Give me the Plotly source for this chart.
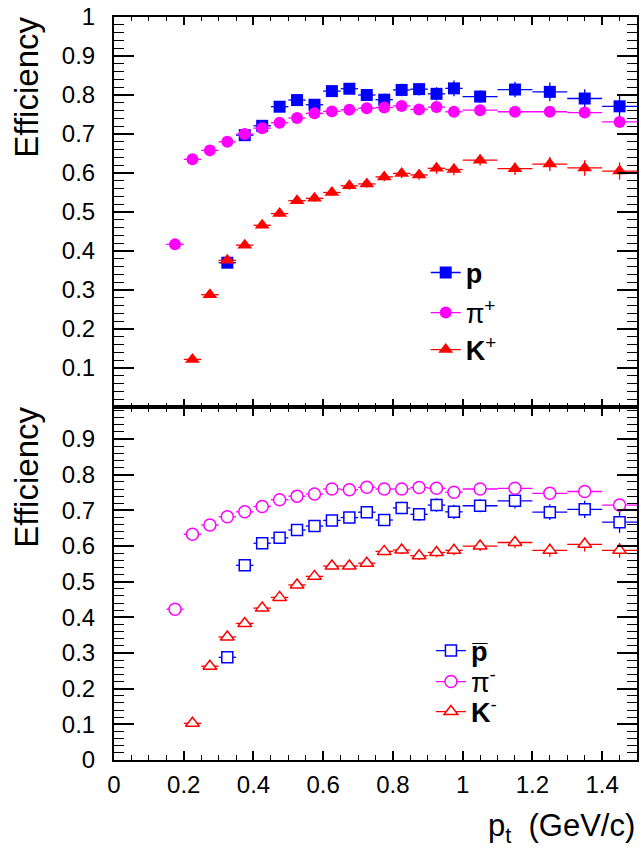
import plotly.graph_objects as go

# ---- data ----
pt = [0.175, 0.225, 0.275, 0.325, 0.375, 0.425, 0.475, 0.525, 0.575, 0.625, 0.675,
      0.725, 0.775, 0.825, 0.875, 0.925, 0.975, 1.05, 1.15, 1.25, 1.35, 1.45]
pt_half = [0.025] * 17 + [0.05] * 5

pip_eff = [0.417, 0.635, 0.658, 0.680, 0.700, 0.715, 0.729, 0.741, 0.753, 0.758, 0.762,
           0.766, 0.768, 0.772, 0.763, 0.769, 0.757, 0.761, 0.757, 0.757, 0.755, 0.731]
pip_err = [0.005, 0.004, 0.004, 0.004, 0.004, 0.004, 0.005, 0.005, 0.005, 0.006, 0.006,
           0.006, 0.007, 0.007, 0.008, 0.008, 0.009, 0.008, 0.009, 0.010, 0.011, 0.013]

p_eff = [0.370, 0.697, 0.721, 0.770, 0.787, 0.775, 0.810, 0.816, 0.800, 0.788, 0.813,
         0.815, 0.803, 0.817, 0.796, 0.814, 0.808, 0.791, 0.771]
p_err = [0.008, 0.008, 0.008, 0.010, 0.010, 0.012, 0.013, 0.014, 0.014, 0.015, 0.016,
         0.016, 0.017, 0.020, 0.016, 0.020, 0.024, 0.024, 0.028]

kp_eff = [0.122, 0.288, 0.376, 0.415, 0.466, 0.496, 0.529, 0.535, 0.550, 0.567, 0.572,
          0.590, 0.599, 0.595, 0.612, 0.609, 0.633, 0.611, 0.623, 0.613, 0.605]
kp_err = [0.005, 0.006, 0.006, 0.007, 0.007, 0.008, 0.008, 0.009, 0.009, 0.010, 0.010,
          0.011, 0.012, 0.012, 0.014, 0.015, 0.014, 0.016, 0.018, 0.020, 0.022]

pim_eff = [0.423, 0.633, 0.659, 0.682, 0.696, 0.711, 0.730, 0.740, 0.746, 0.760, 0.758,
           0.765, 0.760, 0.760, 0.764, 0.762, 0.751, 0.760, 0.762, 0.748, 0.753, 0.715]
pim_err = pip_err[:]

pbar_eff = [0.288, 0.546, 0.608, 0.623, 0.645, 0.656, 0.672, 0.680, 0.695, 0.673, 0.707,
            0.689, 0.715, 0.696, 0.713, 0.727, 0.695, 0.703, 0.667]
pbar_err = [0.008, 0.008, 0.009, 0.010, 0.010, 0.012, 0.013, 0.014, 0.015, 0.016, 0.017,
            0.018, 0.019, 0.020, 0.018, 0.022, 0.022, 0.024, 0.030]

km_eff = [0.103, 0.263, 0.345, 0.383, 0.426, 0.456, 0.491, 0.515, 0.544, 0.544, 0.552,
          0.585, 0.589, 0.573, 0.582, 0.588, 0.600, 0.610, 0.588, 0.605, 0.588]
km_err = [0.005, 0.006, 0.006, 0.007, 0.007, 0.008, 0.008, 0.009, 0.009, 0.010, 0.010,
          0.011, 0.012, 0.012, 0.013, 0.014, 0.014, 0.016, 0.018, 0.020, 0.021]

yticks_top = [0.1, 0.2, 0.3, 0.4, 0.5, 0.6, 0.7, 0.8, 0.9, 1.0]
yticks_top_txt = ["0.1", "0.2", "0.3", "0.4", "0.5", "0.6", "0.7", "0.8", "0.9", "1"]
yticks_bot = [0, 0.1, 0.2, 0.3, 0.4, 0.5, 0.6, 0.7, 0.8, 0.9]
yticks_bot_txt = ["0", "0.1", "0.2", "0.3", "0.4", "0.5", "0.6", "0.7", "0.8", "0.9"]
xticks = [0, 0.2, 0.4, 0.6, 0.8, 1.0, 1.2, 1.4]
xticks_txt = ["0", "0.2", "0.4", "0.6", "0.8", "1", "1.2", "1.4"]

BLUE = "rgb(0,0,255)"
MAG = "rgb(255,0,255)"
RED = "rgb(255,0,0)"
FONT = "Liberation Sans, Arial, Helvetica, sans-serif"

fig = go.Figure()


def add_series(x, xe, y, ye, color, symbol, size, filled, xa, ya, name, legend):
    if filled:
        mk = dict(symbol=symbol, size=size, color=color, line=dict(width=0))
    else:
        mk = dict(symbol=symbol, size=size, color="white", line=dict(color=color, width=1.5))
    fig.add_trace(go.Scatter(
        x=x, y=y, mode="markers", marker=mk, xaxis=xa, yaxis=ya, showlegend=False,
        error_x=dict(type="data", array=xe, color=color, thickness=1.3, width=0),
        error_y=dict(type="data", array=ye, color=color, thickness=1.3, width=0),
    ))
    # legend-only entry (marker with line segment like ROOT "lep")
    fig.add_trace(go.Scatter(
        x=[None], y=[None], mode="lines+markers", marker=mk,
        line=dict(color=color, width=1.3), name=name, legend=legend,
        xaxis=xa, yaxis=ya,
    ))


# top panel
add_series(pt[3:], pt_half[3:], p_eff, p_err, BLUE, "square", 12, True, "x2", "y2",
           "<b>p</b>", "legend")
add_series(pt, pt_half, pip_eff, pip_err, MAG, "circle", 12, True, "x2", "y2",
           "π<sup>+</sup>", "legend2")
add_series(pt[1:], pt_half[1:], kp_eff, kp_err, RED, "triangle-up", 13, True, "x2", "y2",
           "<b>K</b><sup>+</sup>", "legend3")

# bottom panel
add_series(pt[3:], pt_half[3:], pbar_eff, pbar_err, BLUE, "square", 11, False, "x", "y",
           "<b>p\u0305</b>", "legend4")
add_series(pt, pt_half, pim_eff, pim_err, MAG, "circle", 12, False, "x", "y",
           "π<sup>-</sup>", "legend5")
add_series(pt[1:], pt_half[1:], km_eff, km_err, RED, "triangle-up", 12, False, "x", "y",
           "<b>K</b><sup>-</sup>", "legend6")

SPLIT = 353 / 743

axis_common = dict(showline=True, linecolor="black", linewidth=2, mirror="allticks",
                   ticks="inside", tickcolor="black", tickwidth=1.5, showgrid=False,
                   zeroline=False, tickfont=dict(family=FONT, size=24, color="black"))


def leg(x, y):
    return dict(x=x, y=y, xanchor="left", yanchor="middle", bgcolor="rgba(0,0,0,0)",
                font=dict(family=FONT, size=27, color="black"), itemwidth=30)


fig.update_layout(
    width=641, height=849,
    margin=dict(l=114, r=2, t=17, b=89),
    paper_bgcolor="white", plot_bgcolor="white",
    font=dict(family=FONT, color="black"),
    xaxis=dict(domain=[0, 1], range=[0, 1.5], anchor="y", tickvals=xticks, ticktext=xticks_txt,
               ticklen=9, minor=dict(dtick=0.05, ticklen=5, tickwidth=1.2, ticks="inside",
                                     tickcolor="black", showgrid=False),
               ticklabelstandoff=2, **axis_common),
    yaxis=dict(domain=[0, SPLIT], range=[0, 0.99], anchor="x", tickvals=yticks_bot,
               ticktext=yticks_bot_txt, ticklen=20,
               minor=dict(dtick=0.02, tick0=0, ticklen=10, tickwidth=1.2, ticks="inside",
                          tickcolor="black", showgrid=False),
               ticklabelstandoff=12, **axis_common),
    xaxis2=dict(domain=[0, 1], range=[0, 1.5], anchor="y2", matches="x", tickvals=xticks,
                showticklabels=False, ticklen=8,
                minor=dict(dtick=0.05, ticklen=4, tickwidth=1.2, ticks="inside",
                           tickcolor="black", showgrid=False), **axis_common),
    yaxis2=dict(domain=[SPLIT, 1], range=[0, 1.0], anchor="x2", tickvals=yticks_top,
                ticktext=yticks_top_txt, ticklen=20,
                minor=dict(dtick=0.02, tick0=0, ticklen=10, tickwidth=1.2, ticks="inside",
                           tickcolor="black", showgrid=False),
                ticklabelstandoff=12, **axis_common),
    legend=leg(0.596, 0.6555),
    legend2=leg(0.596, 0.6016),
    legend3=leg(0.596, 0.5518),
    legend4=leg(0.606, 0.1467),
    legend5=leg(0.606, 0.105),
    legend6=leg(0.606, 0.0646),
    annotations=[
        dict(text="Efficiency", textangle=-90, xref="paper", yref="paper", x=-0.168, y=1.0,
             xanchor="center", yanchor="top", yshift=2, showarrow=False,
             font=dict(family=FONT, size=33, color="black")),
        dict(text="Efficiency", textangle=-90, xref="paper", yref="paper", x=-0.168, y=SPLIT,
             xanchor="center", yanchor="top", yshift=2, showarrow=False,
             font=dict(family=FONT, size=33, color="black")),
        dict(text="p<sub>t</sub>  (GeV/c)", xref="paper", yref="paper", x=1.0, y=-0.092,
             xanchor="right", yanchor="middle", showarrow=False,
             font=dict(family=FONT, size=31, color="black")),
    ],
)

fig.write_html("out.html", config={"displayModeBar": False},
               post_script="document.body.style.margin='0';")
